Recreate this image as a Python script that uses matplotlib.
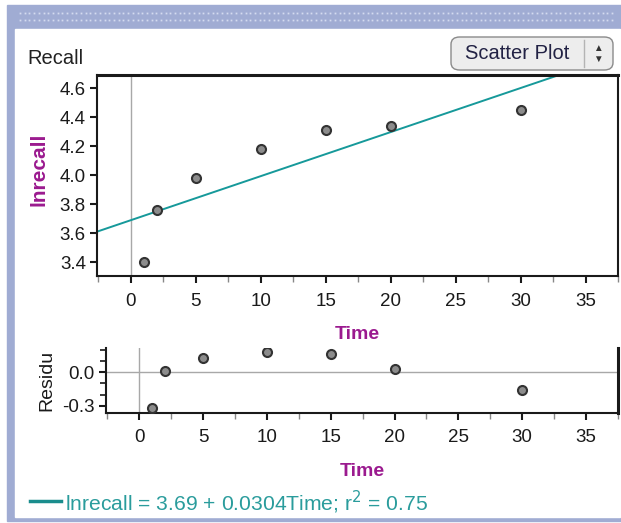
import numpy as np
import matplotlib.pyplot as plt
from matplotlib.patches import Rectangle, FancyBboxPatch
from matplotlib.lines import Line2D

# data
time = [1, 2, 5, 10, 15, 20, 30]
lnrecall = [3.40, 3.76, 3.98, 4.18, 4.31, 4.34, 4.45]
residuals = [-0.32, 0.01, 0.13, 0.18, 0.16, 0.03, -0.16]
intercept = 3.69
slope = 0.0304
r2 = 0.75
x_ticks = [0, 5, 10, 15, 20, 25, 30, 35]
y_ticks = [3.4, 3.6, 3.8, 4.0, 4.2, 4.4, 4.6]
res_ticks = [-0.3, 0.0]

W, H = 621, 523
plt.rcParams['font.family'] = ['Liberation Sans', 'DejaVu Sans']

fig = plt.figure(figsize=(W / 100, H / 100), dpi=100)
fig.patch.set_facecolor('white')


def box(x0, y0, x1, y1):
    # pixel box (top-left origin) -> figure fraction rect
    return [x0 / W, 1 - y1 / H, (x1 - x0) / W, (y1 - y0) / H]


def fx(x):
    return x / W


def fy(y):
    return 1 - y / H


frame_col = '#a0acd3'
fig.add_artist(Rectangle((fx(7), fy(521)), fx(621) - fx(7), fy(5) - fy(521),
                         transform=fig.transFigure, color=frame_col, zorder=0))
fig.add_artist(Rectangle((fx(15), fy(517)), fx(620) - fx(15), fy(29) - fy(517),
                         transform=fig.transFigure, color='white', zorder=0))
# dotted band on the title bar
for yy in (12.5, 20):
    xs = np.arange(20, 616, 4.7)
    fig.add_artist(Line2D(xs / W, np.full(xs.size, fy(yy)), transform=fig.transFigure,
                          ls='none', marker='s', ms=1.3, mfc='#d4dbef', mec='none'))

# header
fig.text(fx(27), fy(58), 'Recall', fontsize=14.5, va='center', ha='left', color='#222222')
btn = FancyBboxPatch((fx(451), fy(70)), fx(613) - fx(451), fy(37) - fy(70),
                     boxstyle='round,pad=0,rounding_size=0.014', transform=fig.transFigure,
                     fc='#ededed', ec='#8a8a8a', lw=1)
fig.add_artist(btn)
fig.add_artist(Line2D([fx(584), fx(584)], [fy(40), fy(67)], transform=fig.transFigure,
                      color='#b4b4b4', lw=1))
fig.text(fx(517), fy(53.5), 'Scatter Plot', fontsize=14.5, ha='center', va='center', color='#222244')
fig.text(fx(598), fy(48), '\u25b2', fontsize=7, ha='center', va='center', color='#333333')
fig.text(fx(598), fy(59), '\u25bc', fontsize=7, ha='center', va='center', color='#333333')

label_col = '#9b1a8f'
teal = '#16999a'
ink = '#1a1a1a'
xlim = (-2.6, 37.45)

# main scatter plot
ax = fig.add_axes(box(97, 75, 618, 276))
ax.set_xlim(xlim)
ax.set_ylim(3.305, 4.692)
ax.axvline(0, color='#a8a8a8', lw=1, zorder=1)
xx = np.array(xlim)
ax.plot(xx, intercept + slope * xx, color=teal, lw=1.4, zorder=2)
ax.plot(time, lnrecall, 'o', ms=6.5, mfc='#8c8c8c', mec='#333333', mew=1.5, zorder=3)
ax.set_xticks(x_ticks)
ax.set_xticks(np.arange(-2.5, 37.6, 5), minor=True)
ax.set_yticks(y_ticks)
ax.set_yticklabels([f'{v:.1f}' for v in y_ticks])
ax.tick_params(axis='both', direction='out', length=5, width=1.5, labelsize=13.5, colors=ink)
ax.tick_params(axis='x', which='minor', length=4, width=1, color='#888888')
ax.tick_params(axis='x', pad=7)
ax.tick_params(axis='y', pad=3)
for s in ax.spines.values():
    s.set_linewidth(1.5)
    s.set_color(ink)
ax.spines['top'].set_linewidth(2.2)
ax.set_xlabel('Time', fontsize=14, fontweight='bold', color=label_col, labelpad=12)
ax.set_ylabel('lnrecall', fontsize=15, fontweight='bold', color=label_col)
ax.yaxis.set_label_coords(-0.094, 0.53)

# residual plot
rx = fig.add_axes(box(106, 348, 618, 412.5))
rx.set_xlim(xlim)
rx.set_ylim(-0.36, 0.217)
rx.axvline(0, color='#a8a8a8', lw=1, zorder=1)
rx.axhline(0, color='#a8a8a8', lw=1, zorder=1)
rx.plot(time, residuals, 'o', ms=6.5, mfc='#8c8c8c', mec='#333333', mew=1.5, zorder=3, clip_on=True)
rx.set_xticks(x_ticks)
rx.set_xticks(np.arange(-2.5, 37.6, 5), minor=True)
rx.set_yticks(res_ticks)
rx.set_yticklabels([f'{v:.1f}' for v in res_ticks])
rx.set_yticks([-0.2, -0.1, 0.1, 0.2], minor=True)
rx.tick_params(axis='both', direction='out', length=5, width=1.5, labelsize=13.5, colors=ink)
rx.tick_params(axis='x', which='minor', length=4, width=1, color='#888888')
rx.tick_params(axis='y', which='minor', length=4, width=1.2, color=ink)
rx.tick_params(axis='x', pad=7)
rx.tick_params(axis='y', pad=3)
rx.spines['top'].set_visible(False)
for k in ('left', 'bottom', 'right'):
    rx.spines[k].set_linewidth(1.5)
    rx.spines[k].set_color(ink)
rx.spines['right'].set_linewidth(2.2)
rx.set_xlabel('Time', fontsize=14, fontweight='bold', color=label_col, labelpad=12)
rx.set_ylabel('Residu', fontsize=14, color=ink, labelpad=5)

# fit legend
fig.add_artist(Line2D([fx(30), fx(61)], [fy(501), fy(501)], transform=fig.transFigure,
                      color='#1a8d8d', lw=2.5))
fig.text(fx(65), fy(502),
         f'lnrecall = {intercept:.2f} + {slope:.4f}Time; r$^2$ = {r2:.2f}',
         fontsize=15.2, color='#2a9c9c', ha='left', va='center')

fig.savefig('out.png', dpi=100)
